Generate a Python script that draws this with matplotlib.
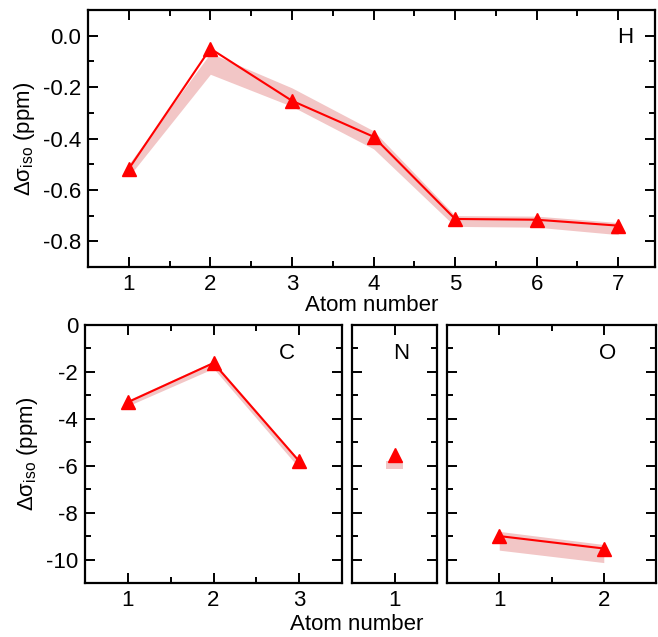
import matplotlib
matplotlib.use("Agg")
import matplotlib.pyplot as plt
from matplotlib.ticker import MultipleLocator

plt.rcParams['font.family'] = ['Liberation Sans', 'DejaVu Sans']
plt.rcParams['mathtext.fontset'] = 'custom'
plt.rcParams['mathtext.rm'] = 'Liberation Sans'
plt.rcParams['axes.unicode_minus'] = False

# H shifts and band (lower / upper)
h_x = [1, 2, 3, 4, 5, 6, 7]
h_y = [-0.518, -0.050, -0.253, -0.393, -0.713, -0.716, -0.739]
h_lo = [-0.548, -0.150, -0.275, -0.440, -0.742, -0.745, -0.774]
h_hi = [-0.500, -0.068, -0.203, -0.370, -0.700, -0.702, -0.727]

# C
c_x = [1, 2, 3]
c_y = [-3.29, -1.62, -5.81]
c_lo = [-3.45, -1.85, -6.10]
c_hi = [-3.20, -1.55, -5.75]

# N
n_x = [1]
n_y = [-5.56]
n_band_x = [0.9, 1.1]
n_lo = [-6.15, -6.15]
n_hi = [-5.81, -5.81]

# O
o_x = [1, 2]
o_y = [-9.00, -9.53]
o_lo = [-9.60, -10.13]
o_hi = [-8.80, -9.36]

red = '#ff0000'
band = '#f2c6c6'
fs = 16

fig = plt.figure(figsize=(6.58, 6.37), dpi=100)
ax_h = fig.add_axes([0.1337, 0.5808, 0.8617, 0.4035])
ax_c = fig.add_axes([0.1292, 0.0848, 0.3906, 0.4050])
ax_n = fig.add_axes([0.5350, 0.0848, 0.1291, 0.4050])
ax_o = fig.add_axes([0.6793, 0.0848, 0.3177, 0.4050])


def style(ax):
    for s in ax.spines.values():
        s.set_linewidth(1.6)
    ax.tick_params(which='both', direction='in', top=True, right=True,
                   width=1.4, labelsize=fs)
    ax.tick_params(which='major', length=7.5, pad=5)
    ax.tick_params(which='minor', length=4)


ax_h.fill_between(h_x, h_lo, h_hi, color=band, lw=0)
ax_h.plot(h_x, h_y, color=red, lw=1.5, marker='^', ms=10)
ax_h.set_xlim(0.5, 7.45)
ax_h.set_ylim(-0.9, 0.1)
ax_h.xaxis.set_major_locator(MultipleLocator(1))
ax_h.xaxis.set_minor_locator(MultipleLocator(0.5))
ax_h.yaxis.set_major_locator(MultipleLocator(0.2))
ax_h.yaxis.set_minor_locator(MultipleLocator(0.1))
ax_h.yaxis.set_major_formatter(lambda v, p: '%.1f' % v)
style(ax_h)
ax_h.set_xlabel('Atom number', fontsize=fs, labelpad=0)
ax_h.set_ylabel('Δσ$_{\\rm iso}$ (ppm)', fontsize=fs, labelpad=4)
ax_h.text(0.947, 0.87, 'H', transform=ax_h.transAxes, fontsize=fs, ha='center')

ax_c.fill_between(c_x, c_lo, c_hi, color=band, lw=0)
ax_c.plot(c_x, c_y, color=red, lw=1.5, marker='^', ms=10)
ax_c.set_xlim(0.5, 3.5)
ax_c.set_ylabel('Δσ$_{\\rm iso}$ (ppm)', fontsize=fs, labelpad=4)
ax_c.text(0.787, 0.87, 'C', transform=ax_c.transAxes, fontsize=fs, ha='center')

ax_n.fill_between(n_band_x, n_lo, n_hi, color=band, lw=0)
ax_n.plot(n_x, n_y, color=red, lw=1.5, marker='^', ms=10, ls='none')
ax_n.set_xlim(0.5, 1.5)
ax_n.text(0.58, 0.87, 'N', transform=ax_n.transAxes, fontsize=fs, ha='center')

ax_o.fill_between(o_x, o_lo, o_hi, color=band, lw=0)
ax_o.plot(o_x, o_y, color=red, lw=1.5, marker='^', ms=10)
ax_o.set_xlim(0.5, 2.5)
ax_o.text(0.77, 0.87, 'O', transform=ax_o.transAxes, fontsize=fs, ha='center')

for ax in (ax_c, ax_n, ax_o):
    ax.set_ylim(-11, 0)
    ax.xaxis.set_major_locator(MultipleLocator(1))
    ax.xaxis.set_minor_locator(MultipleLocator(0.5))
    ax.yaxis.set_major_locator(MultipleLocator(2))
    ax.yaxis.set_minor_locator(MultipleLocator(1))
    style(ax)
for ax in (ax_n, ax_o):
    ax.tick_params(labelleft=False)

fig.text(357 / 658, 1 - 625 / 637, 'Atom number', fontsize=fs, ha='center', va='center')

fig.savefig('out.png', dpi=100)
